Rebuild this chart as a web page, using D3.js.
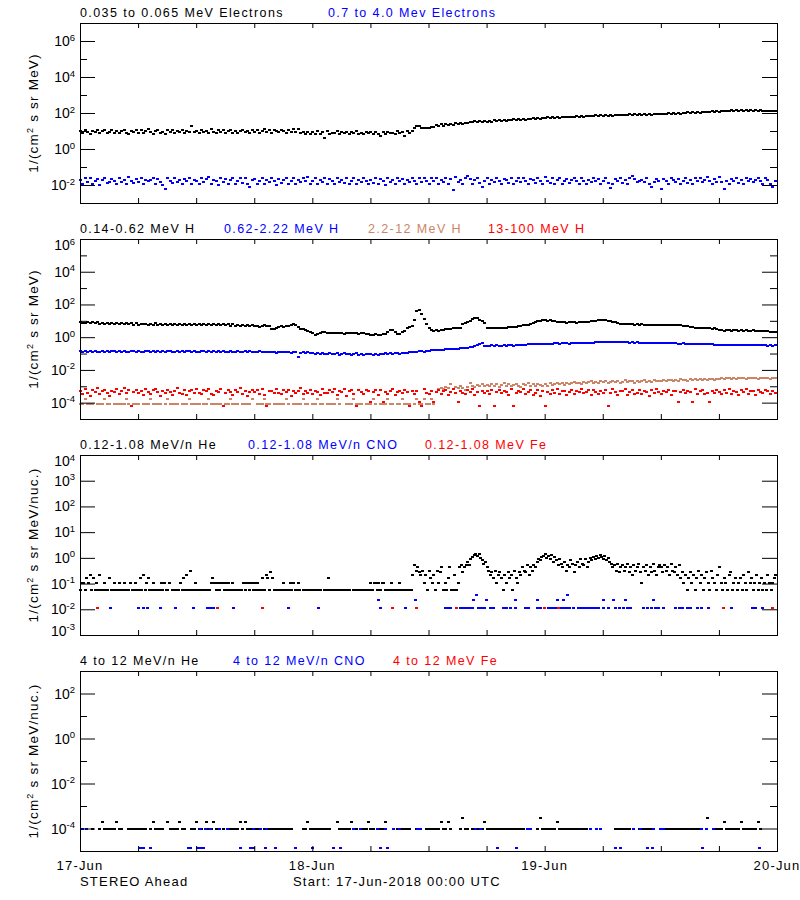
<!DOCTYPE html>
<html><head><meta charset="utf-8">
<script src="https://cdn.jsdelivr.net/npm/d3@7"></script>
<style>
body{margin:0;background:#fff}
svg text{font-family:"Liberation Sans",Arial,sans-serif;fill:#000}
</style>
</head><body>
<svg id="chart" width="800" height="900"></svg>
<script>
// ---------------- DATA ----------------
const startISO = "2018-06-17T00:00:00Z";
const endISO = "2018-06-20T00:00:00Z";
const dayLabels = ["17-Jun", "18-Jun", "19-Jun", "20-Jun"];

// Panel 1: electrons, 1/(cm2 s sr MeV), one value every 15 min
const electronsLow = [
9.8,7.6,11.2,8.9,7.1,10.6,8.4,12.0,7.8,9.5,10.9,7.3,9.1,11.6,8.0,10.2,7.5,9.7,11.4,8.2,7.0,10.3,9.0,11.8,
8.1,10.8,7.4,9.6,12.2,8.6,7.2,10.0,11.3,7.9,9.3,6.9,10.7,8.8,11.9,7.7,9.9,8.3,11.1,7.5,10.4,9.2,19.5,8.5,
10.1,7.8,11.6,8.7,10.3,7.4,12.3,9.0,7.9,10.9,8.4,11.5,7.6,9.8,12.0,8.2,10.6,7.3,9.4,11.8,8.9,10.0,7.7,11.2,
9.1,11.7,8.0,10.5,12.4,8.6,10.9,7.8,11.3,9.5,8.3,12.1,9.9,7.6,11.0,8.8,12.6,9.3,13.5,7.4,9.2,6.6,8.7,7.1,
8.9,6.5,9.4,7.2,8.3,4.1,9.8,6.9,8.1,7.5,9.6,6.7,8.6,7.9,9.2,6.4,8.4,7.3,9.9,7.0,8.0,6.6,9.1,7.6,
8.5,6.8,9.3,7.1,5.0,8.8,6.6,9.0,7.4,8.2,6.9,9.5,7.7,8.4,5.4,9.6,8.1,10.5,14.0,18.5,19.5,15.5,14.5,15.0,
15.2,17.4,16.3,20.5,19.0,23.8,20.1,23.2,22.9,24.6,22.4,27.0,23.5,27.6,24.9,26.8,27.2,31.9,31.0,35.2,31.0,36.4,32.0,36.8,
32.4,37.2,33.5,38.4,35.6,38.9,37.0,40.8,37.4,42.3,39.1,43.8,39.7,45.0,41.6,46.5,42.4,48.1,45.0,50.4,46.2,52.6,48.5,54.8,
50.5,56.8,52.3,57.2,54.6,59.8,55.1,60.9,57.6,63.5,58.8,63.2,60.2,66.4,61.5,67.0,63.4,69.6,64.5,71.0,65.8,73.4,67.8,74.6,
69.0,75.8,70.4,77.1,72.0,78.9,73.2,80.1,74.0,81.9,75.1,82.8,76.6,84.4,77.5,85.6,79.0,87.2,80.1,88.0,81.4,89.9,83.2,91.0,
84.6,92.3,86.2,95.0,88.4,97.6,90.1,100.8,92.9,103.6,95.3,107.1,98.0,110.3,100.9,113.8,104.0,117.4,107.6,121.0,111.2,124.6,115.0,128.5,
119.8,131.4,123.6,135.0,127.2,139.4,130.1,142.6,132.4,144.0,133.1,145.2,132.6,143.9,131.8,141.0,130.5,138.2,128.1,135.6,125.4,132.8,123.9,131.6];

const electronsHigh = [
.019,.012,.023,.014,.026,.011,.017,.021,.010,.018,.024,.013,.015,.022,.017,.011,.025,.014,.020,.012,.027,.016,.013,.021,
.014,.023,.011,.019,.016,.018,.025,.012,.022,.015,.010,.006,.026,.017,.013,.024,.014,.020,.011,.022,.016,.025,.012,.019,
.017,.011,.024,.014,.021,.029,.012,.020,.016,.010,.025,.014,.022,.012,.019,.024,.011,.017,.023,.013,.026,.012,.008,.018,
.022,.012,.017,.025,.011,.020,.014,.024,.016,.010,.022,.013,.019,.026,.012,.017,.024,.011,.020,.014,.023,.016,.027,.012,
.016,.024,.012,.020,.014,.025,.011,.022,.017,.012,.024,.014,.019,.013,.023,.011,.017,.026,.012,.020,.014,.024,.016,.011,
.020,.013,.025,.012,.022,.016,.010,.024,.014,.019,.012,.026,.016,.022,.011,.019,.014,.024,.016,.012,.023,.014,.025,.016,
.012,.023,.016,.024,.011,.020,.014,.026,.012,.022,.0055,.028,.014,.020,.011,.024,.030,.022,.012,.019,.025,.013,.008,.017,
.024,.012,.019,.014,.026,.016,.011,.022,.018,.013,.024,.012,.016,.023,.014,.025,.016,.012,.022,.018,.013,.024,.016,.012,
.029,.016,.013,.025,.012,.019,.024,.011,.017,.022,.013,.019,.026,.016,.012,.023,.016,.011,.020,.014,.024,.016,.022,.012,
.016,.024,.013,.007,.011,.022,.016,.025,.013,.019,.012,.024,.030,.022,.014,.016,.020,.015,.024,.012,.008,.014,.022,.016,
.006,.022,.016,.012,.024,.019,.014,.022,.011,.017,.025,.013,.020,.012,.023,.016,.024,.014,.019,.027,.016,.012,.022,.014,
.029,.014,.006,.017,.012,.022,.016,.025,.013,.019,.011,.024,.016,.022,.014,.019,.026,.016,.012,.024,.018,.011,.008,.016];

// Panel 2: protons, one value every 15 min
const protons1 = [
8.4,7.6,7.4,8.1,7.2,8.0,6.9,8.3,6.8,7.7,6.4,7.8,6.3,7.2,6.5,7.4,6.1,7.3,6.2,7.0,6.4,7.1,5.9,7.0,
5.8,6.7,6.0,6.6,5.6,6.8,5.5,6.9,5.7,6.6,5.3,6.5,5.9,6.4,5.6,6.7,5.8,6.5,5.4,6.6,5.9,6.8,5.5,6.4,
5.6,6.4,5.7,6.5,5.2,6.3,5.5,6.2,5.4,6.3,5.2,6.1,5.3,6.2,5.1,6.0,5.0,5.9,5.1,5.6,4.9,5.3,4.7,5.2,
4.6,4.9,4.4,4.8,5.2,4.7,5.0,3.0,3.3,3.9,4.2,4.5,4.3,4.7,5.0,5.4,6.2,5.6,4.0,3.0,3.2,2.8,2.5,2.2,
1.9,1.4,1.6,1.9,2.0,2.1,1.8,1.9,1.7,1.8,1.9,1.7,1.8,1.6,1.9,1.7,1.8,1.9,1.7,1.6,1.8,1.7,1.5,1.6,
1.4,1.3,1.5,1.4,1.3,1.5,1.6,2.2,2.9,2.6,2.0,1.5,1.6,2.2,2.5,3.5,4.2,4.9,12.0,40.0,44.0,27.0,12.5,6.0,
3.8,2.6,2.4,2.6,2.5,2.7,2.9,3.0,3.2,3.3,3.4,3.5,3.4,3.6,6.0,7.2,8.5,9.5,13.0,14.5,14.0,12.0,10.0,7.0,
3.4,3.5,3.6,3.5,3.7,3.6,3.8,3.7,3.9,4.0,4.2,4.1,4.4,4.6,4.9,5.2,5.5,5.8,6.5,7.5,8.6,9.5,10.2,10.6,
10.8,10.2,10.6,10.0,9.6,9.0,8.6,8.2,8.0,7.8,8.1,7.9,8.2,7.7,8.0,8.3,7.9,8.2,8.6,9.2,9.8,10.2,10.5,10.8,
11.2,10.8,10.4,9.5,8.6,8.0,7.4,6.8,6.5,6.2,6.4,6.0,6.2,5.9,6.1,5.8,6.0,5.7,5.9,5.6,5.8,5.5,5.7,5.6,
5.7,5.5,5.8,5.6,5.4,5.7,5.5,5.3,5.4,5.0,4.8,4.5,4.2,4.0,3.9,3.7,3.6,3.5,3.6,3.4,3.5,3.3,3.4,3.2,
2.6,2.7,2.5,2.6,2.8,2.5,2.6,2.7,2.4,2.6,2.5,2.7,2.5,2.4,2.6,2.5,2.3,2.5,2.4,2.3,2.4,2.2,2.1,2.0];

const protons2 = [
.135,.124,.146,.131,.141,.121,.140,.133,.126,.149,.131,.138,.123,.139,.134,.128,.147,.125,.137,.132,.122,.144,.135,.128,
.140,.130,.124,.145,.135,.127,.138,.133,.150,.128,.137,.124,.142,.134,.130,.121,.141,.133,.139,.126,.145,.135,.129,.140,
.133,.126,.144,.136,.128,.140,.123,.135,.131,.143,.125,.137,.130,.120,.141,.133,.127,.139,.130,.122,.135,.128,.138,.124,
.131,.121,.135,.125,.118,.130,.122,.116,.128,.114,.123,.127,.116,.125,.119,.112,.124,.116,.065,.112,.121,.108,.118,.106,
.107,.095,.112,.092,.104,.090,.100,.108,.088,.098,.105,.086,.097,.102,.089,.099,.084,.095,.103,.087,.097,.085,.093,.100,
.092,.084,.097,.087,.099,.089,.101,.093,.104,.095,.101,.107,.097,.104,.110,.112,.120,.121,.130,.124,.134,.137,.133,.143,
.148,.158,.160,.156,.170,.172,.168,.182,.184,.194,.186,.200,.202,.216,.208,.224,.230,.252,.260,.288,.330,.400,.460,.310,
.305,.296,.314,.298,.320,.292,.308,.324,.300,.316,.330,.308,.334,.316,.342,.352,.343,.362,.372,.362,.382,.388,.374,.394,
.395,.404,.410,.396,.417,.422,.406,.432,.416,.426,.410,.437,.427,.441,.430,.448,.437,.451,.455,.463,.469,.479,.484,.491,
.494,.507,.490,.512,.499,.486,.503,.494,.483,.479,.491,.470,.481,.466,.476,.460,.471,.456,.452,.461,.446,.456,.440,.439,
.441,.430,.429,.437,.422,.419,.427,.410,.405,.416,.398,.393,.399,.386,.383,.391,.374,.371,.379,.363,.361,.369,.353,.351,
.353,.343,.341,.349,.336,.333,.343,.334,.329,.336,.323,.333,.318,.329,.317,.326,.313,.323,.311,.319,.309,.317,.306,.313];

const protons3 = [
8.5e-5,8.5e-5,1.7e-4,8.5e-5,8.5e-5,8.5e-5,null,8.5e-5,8.5e-5,8.5e-5,1.7e-4,8.5e-5,8.5e-5,null,8.5e-5,8.5e-5,8.5e-5,8.5e-5,8.5e-5,1.7e-4,8.5e-5,null,8.5e-5,8.5e-5,
8.5e-5,null,8.5e-5,8.5e-5,8.5e-5,1.7e-4,8.5e-5,8.5e-5,8.5e-5,8.5e-5,null,8.5e-5,1.7e-4,8.5e-5,8.5e-5,8.5e-5,8.5e-5,null,8.5e-5,8.5e-5,8.5e-5,1.7e-4,8.5e-5,8.5e-5,
8.5e-5,8.5e-5,null,8.5e-5,8.5e-5,1.7e-4,8.5e-5,8.5e-5,8.5e-5,8.5e-5,8.5e-5,null,8.5e-5,8.5e-5,1.7e-4,8.5e-5,8.5e-5,8.5e-5,null,8.5e-5,8.5e-5,8.5e-5,8.5e-5,1.7e-4,
null,8.5e-5,8.5e-5,8.5e-5,1.7e-4,8.5e-5,8.5e-5,null,8.5e-5,8.5e-5,8.5e-5,8.5e-5,8.5e-5,1.7e-4,8.5e-5,null,8.5e-5,8.5e-5,8.5e-5,8.5e-5,1.7e-4,8.5e-5,8.5e-5,null,
8.5e-5,8.5e-5,1.7e-4,8.5e-5,8.5e-5,null,8.5e-5,8.5e-5,8.5e-5,8.5e-5,1.7e-4,8.5e-5,null,null,8.5e-5,8.5e-5,8.5e-5,1.7e-4,8.5e-5,8.5e-5,8.5e-5,null,8.5e-5,8.5e-5,
8.5e-5,1.7e-4,8.5e-5,null,8.5e-5,8.5e-5,8.5e-5,1.7e-4,8.5e-5,8.5e-5,null,8.5e-5,8.5e-5,1.7e-4,8.5e-5,8.5e-5,8.5e-5,null,8.5e-5,1.7e-4,8.5e-5,8.5e-5,1.7e-4,8.5e-5,
8.5e-5,1.7e-4,8.5e-5,4.7e-4,6.5e-4,8.2e-4,7.0e-4,9.5e-4,7.6e-4,1.4e-3,6.8e-4,8.8e-4,7.4e-4,1.0e-3,8.0e-4,6.2e-4,9.2e-4,1.5e-3,1.1e-3,9.0e-4,1.2e-3,1.0e-3,1.3e-3,1.1e-3,
1.2e-3,1.0e-3,1.4e-3,1.1e-3,1.3e-3,9.5e-4,1.2e-3,1.5e-3,1.1e-3,1.3e-3,1.0e-3,1.2e-3,1.4e-3,1.1e-3,9.0e-4,1.3e-3,1.2e-3,1.5e-3,1.0e-3,1.3e-3,1.1e-3,1.4e-3,1.2e-3,1.0e-3,
1.3e-3,1.1e-3,1.5e-3,1.2e-3,1.4e-3,1.6e-3,1.3e-3,1.5e-3,1.2e-3,1.7e-3,1.4e-3,1.6e-3,1.8e-3,1.5e-3,1.7e-3,1.4e-3,1.9e-3,1.6e-3,1.8e-3,2.1e-3,1.7e-3,1.9e-3,1.6e-3,2.0e-3,
1.8e-3,2.1e-3,1.7e-3,1.9e-3,2.2e-3,1.8e-3,2.0e-3,1.6e-3,1.9e-3,2.3e-3,1.8e-3,2.0e-3,2.1e-3,1.7e-3,2.2e-3,1.9e-3,2.0e-3,2.4e-3,1.8e-3,2.1e-3,1.9e-3,2.3e-3,2.0e-3,2.2e-3,
2.1e-3,2.4e-3,2.0e-3,2.3e-3,2.5e-3,2.1e-3,2.4e-3,2.2e-3,2.6e-3,2.3e-3,2.5e-3,2.2e-3,2.7e-3,2.4e-3,2.6e-3,2.3e-3,2.8e-3,2.5e-3,2.7e-3,2.4e-3,2.6e-3,2.9e-3,2.5e-3,2.7e-3,
2.8e-3,3.1e-3,2.7e-3,3.0e-3,3.2e-3,2.9e-3,3.1e-3,2.8e-3,3.3e-3,3.0e-3,3.2e-3,2.9e-3,3.1e-3,3.4e-3,3.0e-3,3.2e-3,2.9e-3,3.3e-3,3.1e-3,3.0e-3,3.2e-3,2.9e-3,3.1e-3,3.0e-3];

const protons4 = [
5.2e-4,3.6e-4,6.8e-4,4.1e-4,2.7e-4,5.8e-4,4.6e-4,7.4e-4,3.3e-4,4.9e-4,6.1e-4,3.9e-4,2.5e-4,5.4e-4,4.3e-4,6.6e-4,3.5e-4,4.8e-4,7.9e-4,4.0e-4,5.6e-4,6.5e-5,4.5e-4,6.3e-4,
3.8e-4,5.0e-4,2.9e-4,6.4e-4,4.4e-4,3.4e-4,5.9e-4,7.1e-4,4.2e-4,2.6e-4,5.3e-4,3.7e-4,6.0e-4,4.7e-4,3.1e-4,5.5e-4,8.0e-4,4.1e-4,3.5e-4,6.2e-4,2.8e-4,4.9e-4,5.7e-4,3.9e-4,
6.5e-4,4.0e-4,3.2e-4,5.6e-4,4.8e-4,7.3e-4,3.6e-4,2.9e-4,5.1e-4,4.4e-4,6.7e-4,6.5e-5,3.8e-4,5.9e-4,4.6e-4,3.0e-4,6.1e-4,4.3e-4,7.6e-4,3.5e-4,5.0e-4,2.7e-4,4.7e-4,6.0e-4,
4.2e-4,5.7e-4,3.4e-4,6.6e-4,2.9e-4,6.5e-5,4.9e-4,5.4e-4,3.7e-4,7.0e-4,4.1e-4,3.2e-4,5.8e-4,4.5e-4,6.3e-4,2.6e-4,5.1e-4,3.9e-4,4.8e-4,7.4e-4,3.3e-4,5.5e-4,4.0e-4,6.2e-4,
3.6e-4,5.3e-4,4.5e-4,2.8e-4,6.9e-4,4.1e-4,3.8e-4,5.9e-4,4.6e-4,7.2e-4,3.1e-4,5.0e-4,4.3e-4,6.4e-4,2.7e-4,4.8e-4,5.6e-4,3.5e-4,6.5e-5,6.1e-4,4.2e-4,3.4e-4,5.7e-4,4.9e-4,
1.15e-4,4.4e-4,5.8e-4,3.1e-4,6.3e-4,1.15e-4,4.7e-4,3.6e-4,5.2e-4,6.8e-4,2.9e-4,4.2e-4,5.5e-4,3.8e-4,6.0e-4,4.5e-4,6.5e-5,5.1e-4,3.3e-4,4.9e-4,1.15e-4,6.5e-5,6.4e-4,4.0e-4,
3.5e-4,5.4e-4,1.15e-4,4.6e-4,6.2e-4,3.2e-4,4.8e-4,5.7e-4,2.8e-4,4.3e-4,6.6e-4,3.9e-4,1.15e-4,5.0e-4,4.1e-4,3.6e-4,5.9e-4,4.4e-4,6.8e-4,3.0e-4,4.7e-4,6.5e-5,5.3e-4,3.8e-4,
4.9e-4,3.4e-4,5.8e-4,6.5e-5,4.2e-4,6.1e-4,3.7e-4,5.0e-4,4.5e-4,2.9e-4,6.5e-4,6.5e-5,3.9e-4,5.4e-4,4.3e-4,6.9e-4,3.3e-4,4.7e-4,5.6e-4,3.1e-4,4.0e-4,6.3e-4,2.7e-4,5.2e-4,
6.5e-5,4.4e-4,3.6e-4,5.9e-4,4.1e-4,6.7e-4,3.2e-4,4.8e-4,5.3e-4,2.8e-4,4.6e-4,6.0e-4,3.5e-4,5.1e-4,4.2e-4,7.1e-4,3.8e-4,4.5e-4,5.7e-4,3.0e-4,6.2e-4,4.3e-4,3.4e-4,5.5e-4,
4.0e-4,5.6e-4,6.5e-5,3.7e-4,6.4e-4,4.6e-4,3.1e-4,5.2e-4,4.9e-4,6.8e-4,2.9e-4,4.4e-4,5.8e-4,3.6e-4,4.1e-4,6.1e-4,3.3e-4,5.0e-4,4.7e-4,2.7e-4,5.9e-4,3.9e-4,6.5e-4,4.3e-4,
3.5e-4,5.1e-4,4.6e-4,6.3e-4,3.0e-4,4.8e-4,5.5e-4,1.15e-4,4.2e-4,6.0e-4,3.7e-4,5.3e-4,4.4e-4,1.15e-4,6.6e-4,3.4e-4,4.9e-4,5.7e-4,3.2e-4,4.1e-4,1.15e-4,5.0e-4,3.8e-4,6.2e-4,
4.7e-4,3.3e-4,5.8e-4,4.0e-4,6.4e-4,3.6e-4,5.2e-4,4.5e-4,2.9e-4,5.9e-4,4.3e-4,6.7e-4,3.5e-4,4.8e-4,5.4e-4,3.1e-4,6.1e-4,4.2e-4,3.8e-4,5.6e-4,4.9e-4,3.4e-4,5.0e-4,4.1e-4];

// Panel 3: 0.12-1.08 MeV/n, 1/(cm2 s sr MeV/nuc.); helium one value every 10 min
const heliumLow = [
.054,.108,.108,.054,.16,.108,.22,.054,.16,.054,.108,.054,.22,.054,.054,.108,.054,.054,.16,.054,.054,.108,.054,.054,
.108,.054,.054,.108,.054,null,.054,.108,.054,.054,.108,.054,.054,.16,.054,.22,.054,.108,.16,.054,.054,.108,.054,null,
.054,.054,.108,.054,.108,.054,.054,.108,null,.054,.054,.054,null,.054,.108,.054,.16,.054,.22,.054,.32,.054,.054,.108,
.054,null,.054,.054,.054,.054,null,.054,.054,.108,.16,.108,.054,.108,.054,.108,.108,.054,.108,.054,.108,.054,.108,.054,
.054,.054,null,.054,.054,.108,.054,.108,.108,.054,.108,.054,.108,.054,.108,.054,.054,.16,.054,.22,.16,.054,.27,.16,
.054,.054,null,.054,.054,.054,.108,.054,null,.054,.108,.054,.108,.054,.054,.108,.054,null,.054,.054,.054,null,.054,.054,
.054,.054,null,.054,.054,.054,null,.054,.054,.054,.16,.054,null,.054,.054,.054,.054,null,.054,.054,null,.054,.054,.054,
null,.054,.054,.054,null,.054,.054,.054,.054,null,.054,.054,.108,.054,.108,.108,.054,.108,.054,.108,.108,.054,.054,.054,
.054,.108,.054,null,.054,.054,.108,.054,null,.054,.054,.054,null,.054,.22,.54,.32,.43,.27,.22,.32,.108,.22,.054,
.32,.16,.108,.22,.054,.32,.108,.27,.43,.054,.108,.054,.16,.43,.054,.054,.22,.054,.108,.43,.54,.27,.43,.54,
.7,.54,.9,1.1,1.3,1.45,1.2,1.4,1.0,.8,.6,.7,.43,.32,.22,.27,.16,.32,.108,.22,.27,.16,.054,.22,
.108,.27,.16,.22,.054,.32,.16,.108,.27,.22,.43,.32,.27,.54,.22,.43,.32,.54,.43,.7,.9,.8,1.1,1.2,
1.4,1.0,1.2,.9,1.3,.7,1.1,.8,.54,.9,.6,.43,.7,.32,.54,.43,.8,.6,.27,.54,.7,.43,.9,.6,
.54,.9,.43,.7,1.0,.8,1.1,.9,1.2,1.0,1.35,1.1,.9,1.2,.8,1.0,.7,.6,.43,.54,.32,.6,.27,.43,
.54,.32,.43,.6,.27,.43,.22,.54,.32,.43,.6,.27,.108,.43,.32,.54,.22,.43,.27,.6,.32,.22,.43,.54,
.43,.27,.54,.32,.43,.22,.6,.32,.27,.43,.22,.54,.16,.27,.108,.22,.054,.16,.27,.108,.22,.054,.16,.32,
.108,.22,.054,.16,.27,.108,.054,.32,.16,.108,.054,.22,.46,.108,.054,.16,.108,.054,.22,.27,.054,.108,.16,.054,
.108,.16,.054,.22,.108,.054,.27,.108,.16,.054,.108,.22,.054,.108,.16,.054,.108,.054,.22,.108,.054,.108,.16,.22];

// sparse series: [hours since start, flux]
const cnoLow = [[3.1,.0117],[6.0,.0117],[6.5,.0117],[6.9,.0117],[8.3,.0117],[9.8,.0117],[11.7,.0117],[13.1,.0117],[13.4,.0117],[13.7,.0117],[15.8,.0117],[21.5,.0117],[24.6,.0117],[30.8,.024],[31.0,.0117],[33.6,.0117],[34.6,.024],[37.7,.0117],[38.0,.0117],[38.2,.0117],[39.3,.0117],[39.6,.0117],[39.9,.0117],[40.2,.0117],[40.5,.0117],[40.6,.024],[40.9,.036],[41.1,.0117],[41.4,.0117],[41.7,.0117],[41.9,.024],[42.4,.0117],[42.7,.0117],[43.7,.0117],[44.0,.0117],[44.4,.0117],[44.9,.0117],[44.9,.024],[46.0,.0117],[46.3,.0117],[47.2,.0117],[47.2,.024],[47.5,.0117],[48.3,.0117],[48.7,.0117],[49.0,.0117],[49.3,.0117],[49.3,.024],[49.6,.0117],[49.9,.0117],[49.9,.024],[50.2,.0117],[50.3,.036],[50.5,.0117],[50.9,.0117],[51.4,.0117],[51.8,.0117],[52.1,.0117],[52.4,.0117],[52.7,.0117],[53.0,.0117],[53.3,.0117],[53.5,.0117],[54.0,.0117],[54.0,.024],[54.5,.0117],[55.1,.024],[55.3,.0117],[55.7,.0117],[56.1,.0117],[56.3,.024],[56.5,.0117],[56.8,.0117],[58.2,.0117],[58.6,.0117],[59.0,.0117],[59.2,.024],[59.4,.0117],[59.7,.0117],[60.2,.0117],[61.5,.0117],[61.9,.0117],[62.2,.0117],[62.7,.0117],[63.0,.0117],[63.7,.0117],[64.1,.0117],[64.9,.0117],[67.2,.0117],[69.4,.0117],[69.7,.0117],[70.5,.0117]];
const ironLow = [[1.8,.0117],[14.2,.0117],[18.8,.0117],[32.2,.0117],[34.7,.0117],[38.8,.0117],[47.9,.0117],[49.4,.0117],[66.4,.0117],[71.5,.0117]];

// Panel 4: 4-12 MeV/n, helium one value every 15 min
const heliumHigh = [
null,null,null,null,null,1e-4,null,null,1e-4,2e-4,1e-4,1e-4,1e-4,1e-4,1e-4,2e-4,1e-4,1e-4,null,null,1e-4,1e-4,1e-4,1e-4,
1e-4,1e-4,1e-4,1e-4,null,1e-4,2e-4,1e-4,1e-4,1e-4,1e-4,null,2e-4,1e-4,1e-4,1e-4,1e-4,2e-4,1e-4,1e-4,null,null,1e-4,1e-4,
2e-4,1e-4,1e-4,null,2e-4,1e-4,1e-4,2e-4,1e-4,null,null,1e-4,null,null,1e-4,1e-4,1e-4,1e-4,2e-4,1e-4,2e-4,1e-4,1e-4,1e-4,
1e-4,1e-4,null,null,1e-4,1e-4,1e-4,1e-4,1e-4,1e-4,1e-4,1e-4,1e-4,1e-4,1e-4,1e-4,null,null,null,null,1e-4,1e-4,2e-4,1e-4,
1e-4,1e-4,1e-4,1e-4,1e-4,1e-4,1e-4,1e-4,null,null,2e-4,1e-4,1e-4,1e-4,1e-4,1e-4,2e-4,1e-4,1e-4,null,null,1e-4,1e-4,2e-4,
1e-4,1e-4,null,1e-4,1e-4,1e-4,2e-4,null,null,null,null,1e-4,1e-4,1e-4,1e-4,1e-4,1e-4,null,null,1e-4,1e-4,null,null,1e-4,
1e-4,1e-4,1e-4,1e-4,1e-4,2e-4,1e-4,1e-4,2e-4,1e-4,null,null,null,1e-4,3e-4,1e-4,1e-4,null,1e-4,1e-4,1e-4,null,1e-4,2e-4,
1e-4,1e-4,1e-4,1e-4,1e-4,1e-4,1e-4,1e-4,1e-4,1e-4,1e-4,1e-4,1e-4,1e-4,1e-4,1e-4,null,null,null,null,null,1e-4,3e-4,1e-4,
1e-4,1e-4,1e-4,1e-4,1e-4,2e-4,1e-4,1e-4,1e-4,1e-4,1e-4,1e-4,1e-4,1e-4,1e-4,1e-4,1e-4,1e-4,null,null,null,null,null,null,
null,null,null,null,null,1e-4,1e-4,1e-4,1e-4,1e-4,1e-4,1e-4,null,null,null,1e-4,1e-4,1e-4,1e-4,1e-4,1e-4,null,null,null,
null,1e-4,1e-4,1e-4,1e-4,1e-4,1e-4,1e-4,1e-4,1e-4,1e-4,1e-4,1e-4,1e-4,1e-4,1e-4,1e-4,null,null,3e-4,null,null,null,1e-4,
1e-4,1e-4,2e-4,1e-4,1e-4,1e-4,1e-4,1e-4,1e-4,2e-4,1e-4,1e-4,1e-4,1e-4,1e-4,1e-4,2e-4,1e-4,null,null,null,null,null,null];
const cnoHigh = [[0.2,1e-4],[0.6,1e-4],[12.4,1e-4],[12.9,1e-4],[13.4,1e-4],[14.4,1e-4],[15.2,1e-4],[17.9,1e-4],[18.6,1e-4],[19.2,1e-4],[28.2,1e-4],[28.9,1e-4],[30.7,1e-4],[31.5,1e-4],[32.3,1e-4],[33.0,1e-4],[34.8,1e-4],[35.1,1e-4],[40.8,1e-4],[41.3,1e-4],[46.2,1e-4],[46.5,1e-4],[52.7,1e-4],[53.3,1e-4],[53.7,1e-4],[57.1,1e-4],[57.8,1e-4],[59.2,1e-4],[59.9,1e-4],[60.2,1e-4],[64.1,1e-4],[64.7,1e-4],[65.4,1e-4],
[6.2,1.3e-5],[6.5,1.3e-5],[7.2,1.3e-5],[11.2,1.3e-5],[11.4,1.3e-5],[12.1,1.3e-5],[12.4,1.3e-5],[12.7,1.3e-5],[16.5,1.3e-5],[17.6,1.3e-5],[17.9,1.3e-5],[19.1,1.3e-5],[20.1,1.3e-5],[22.2,1.3e-5],[24.0,1.3e-5],[26.1,1.3e-5],[26.9,1.3e-5],[31.0,1.3e-5],[31.7,1.3e-5],[43.1,1.3e-5],[45.0,1.3e-5],[55.3,1.3e-5],[55.8,1.3e-5],[58.6,1.3e-5],[59.1,1.3e-5],[64.3,1.3e-5],[70.1,1.3e-5]];
const ironHigh = [];

// titles
const titles1 = ["0.035 to 0.065 MeV Electrons", "0.7 to 4.0 Mev Electrons"];
const titles2 = ["0.14-0.62 MeV H", "0.62-2.22 MeV H", "2.2-12 MeV H", "13-100 MeV H"];
const titles3 = ["0.12-1.08 MeV/n He", "0.12-1.08 MeV/n CNO", "0.12-1.08 MeV Fe"];
const titles4 = ["4 to 12 MeV/n He", "4 to 12 MeV/n CNO", "4 to 12 MeV Fe"];
const footerLeft = "STEREO Ahead";
const footerRight = "Start: 17-Jun-2018 00:00 UTC";

// ---------------- STYLE / LAYOUT ----------------
const BLACK = "#000000", BLUE = "#0000ff", SIENNA = "#cc8466", RED = "#ff0000";
const PLOT_L = 80, PLOT_R = 777, PANEL_H = 180;
const svg = d3.select("#chart");
const t0 = new Date(startISO), t1 = new Date(endISO);
const x = d3.scaleUtc().domain([t0, t1]).range([PLOT_L, PLOT_R]);
const timeAt = (i, cad) => new Date(t0.getTime() + i * cad * 60000);
const hoursAt = h => new Date(t0.getTime() + h * 3600000);

const panels = [
  { top: 23, exps: [-3, 7], major: [6,4,2,0,-2], minor: [5,3,1,-1], labels: [6,4,2,0,-2],
    unit: "MeV)", titles: titles1, titleX: [80, 328], colors: [BLACK, BLUE],
    regular: [[electronsLow, BLACK, 15], [electronsHigh, BLUE, 15]], sparse: [] },
  { top: 239, exps: [-5, 6], major: [6,4,2,0,-2,-4], minor: [5,3,1,-1,-3], labels: [6,4,2,0,-2,-4],
    unit: "MeV)", titles: titles2, titleX: [80, 224, 368, 488], colors: [BLACK, BLUE, SIENNA, RED],
    regular: [[protons1, BLACK, 15], [protons2, BLUE, 15], [protons3, SIENNA, 15], [protons4, RED, 15]], sparse: [] },
  { top: 455, exps: [-3, 4], major: [4,3,2,1,0,-1,-2,-3], minor: [], labels: [4,3,2,1,0,-1,-2,-3],
    unit: "MeV/nuc.)", titles: titles3, titleX: [80, 248, 425], colors: [BLACK, BLUE, RED],
    regular: [[heliumLow, BLACK, 10]], sparse: [[cnoLow, BLUE], [ironLow, RED]] },
  { top: 671, exps: [-5, 3], major: [2,0,-2,-4], minor: [1,-1,-3], labels: [2,0,-2,-4],
    unit: "MeV/nuc.)", titles: titles4, titleX: [80, 233, 393], colors: [BLACK, BLUE, RED],
    regular: [[heliumHigh, BLACK, 15]], sparse: [[cnoHigh, BLUE], [ironHigh, RED]] }
];

panels.forEach(p => {
  const bottom = p.top + PANEL_H;
  const y = d3.scaleLog().domain([10 ** p.exps[0], 10 ** p.exps[1]]).range([bottom, p.top]);
  const g = svg.append("g");

  const drawPts = (pts, color) => {
    g.append("g").selectAll("rect").data(pts).join("rect")
      .attr("x", d => Math.round(x(d[0])) - 1)
      .attr("y", d => Math.round(y(d[1])) - 1)
      .attr("width", 3).attr("height", 2)
      .attr("fill", color).attr("shape-rendering", "crispEdges");
  };
  p.regular.forEach(([arr, color, cad]) => {
    drawPts(arr.map((v, i) => [timeAt(i, cad), v]).filter(d => d[1] != null), color);
  });
  p.sparse.forEach(([arr, color]) => {
    drawPts(arr.map(d => [hoursAt(d[0]), d[1]]), color);
  });

  // frame
  g.append("rect").attr("x", PLOT_L + 0.5).attr("y", p.top + 0.5)
    .attr("width", PLOT_R - PLOT_L).attr("height", PANEL_H)
    .attr("fill", "none").attr("stroke", "#000").attr("stroke-width", 1);

  const strip = sel => { sel.select(".domain").remove(); sel.selectAll("line").attr("stroke", "#000"); };
  const six = d3.utcHour.every(6);
  g.append("g").attr("transform", `translate(0,${p.top})`)
    .call(d3.axisBottom(x).ticks(six).tickSize(5).tickFormat("")).call(strip);
  g.append("g").attr("transform", `translate(0,${bottom})`)
    .call(d3.axisTop(x).ticks(six).tickSize(5).tickFormat("")).call(strip);

  const mj = p.major.map(e => 10 ** e), mn = p.minor.map(e => 10 ** e);
  g.append("g").attr("transform", `translate(${PLOT_L},0)`)
    .call(d3.axisRight(y).tickValues(mj).tickSize(15).tickFormat("")).call(strip);
  g.append("g").attr("transform", `translate(${PLOT_R},0)`)
    .call(d3.axisLeft(y).tickValues(mj).tickSize(15).tickFormat("")).call(strip);
  if (mn.length) {
    g.append("g").attr("transform", `translate(${PLOT_L},0)`)
      .call(d3.axisRight(y).tickValues(mn).tickSize(7).tickFormat("")).call(strip);
    g.append("g").attr("transform", `translate(${PLOT_R},0)`)
      .call(d3.axisLeft(y).tickValues(mn).tickSize(7).tickFormat("")).call(strip);
  }

  p.labels.forEach(e => {
    let cy = y(10 ** e);
    cy = Math.max(p.top + 6, Math.min(bottom - 4.5, cy));
    const t = g.append("text").attr("x", 75).attr("y", cy + 5)
      .attr("text-anchor", "end").attr("font-size", 14);
    t.append("tspan").text("10");
    t.append("tspan").attr("dy", -5.5).attr("font-size", 9.5).text(String(e));
  });

  const yt = g.append("text")
    .attr("transform", `translate(38,${p.top + PANEL_H / 2}) rotate(-90)`)
    .attr("text-anchor", "middle").attr("font-size", 13.5).attr("letter-spacing", 1.2);
  yt.append("tspan").text("1/(cm");
  yt.append("tspan").attr("dy", -5).attr("font-size", 9).text("2");
  yt.append("tspan").attr("dy", 5).text(" s sr " + p.unit);

  p.titles.forEach((txt, i) => {
    g.append("text").attr("x", p.titleX[i]).attr("y", p.top - 6)
      .attr("font-size", 12.5).attr("letter-spacing", 1.4)
      .style("fill", p.colors[i]).text(txt);
  });
});

const days = d3.utcDay.range(t0, d3.utcDay.offset(t1, 1));
svg.append("g").selectAll("text").data(days).join("text")
  .attr("x", d => x(d)).attr("y", 870).attr("text-anchor", "middle")
  .attr("font-size", 13).attr("letter-spacing", 1.2)
  .text((d, i) => dayLabels[i]);

svg.append("text").attr("x", 80).attr("y", 886).attr("font-size", 13)
  .attr("letter-spacing", 1.2).text(footerLeft);
svg.append("text").attr("x", 293).attr("y", 886).attr("font-size", 13)
  .attr("letter-spacing", 1.2).text(footerRight);
</script>
</body></html>
